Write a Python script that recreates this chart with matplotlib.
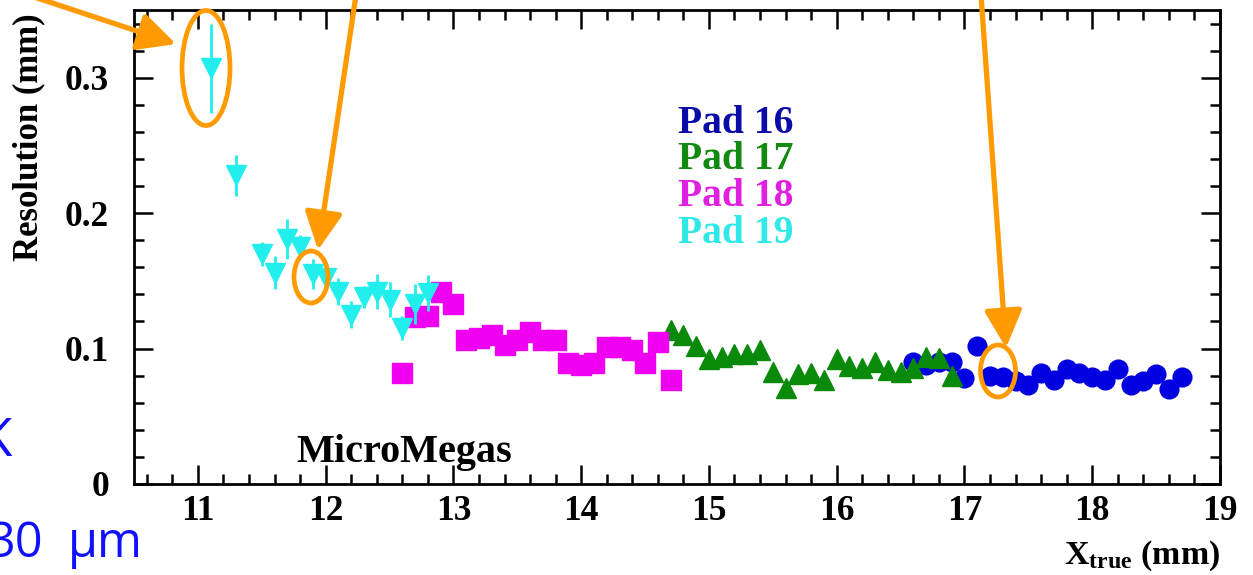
import matplotlib
matplotlib.use("Agg")
import matplotlib.pyplot as plt
from matplotlib.patches import Ellipse, FancyArrowPatch, ArrowStyle
from matplotlib.ticker import MultipleLocator, FixedLocator

# ---------------- data ----------------
p19_x = [11.1, 11.3, 11.5, 11.6, 11.7, 11.8, 11.9, 12.0, 12.1, 12.2, 12.3, 12.4, 12.5, 12.6, 12.7, 12.8]
p19_y = [0.307, 0.228, 0.170, 0.156, 0.181, 0.175, 0.155, 0.152, 0.142, 0.125, 0.138, 0.142, 0.136, 0.115, 0.133, 0.141]
p19_e = [0.033, 0.015, 0.009, 0.012, 0.015, 0.009, 0.011, 0.008, 0.010, 0.010, 0.008, 0.013, 0.013, 0.009, 0.015, 0.013]

p18_x = [12.6, 12.7, 12.8, 12.9, 13.0, 13.1, 13.2, 13.3, 13.4, 13.5, 13.6, 13.7, 13.8, 13.9, 14.0,
         14.1, 14.2, 14.3, 14.4, 14.5, 14.6, 14.7]
p18_y = [0.082, 0.123, 0.124, 0.142, 0.133, 0.106, 0.108, 0.110, 0.103, 0.106, 0.112, 0.106, 0.106,
         0.089, 0.088, 0.089, 0.101, 0.101, 0.099, 0.089, 0.105, 0.077]
p18_e = [0.006, 0.006, 0.006, 0.005, 0.005, 0.005, 0.005, 0.005, 0.005, 0.005, 0.005, 0.005, 0.005,
         0.005, 0.005, 0.005, 0.005, 0.005, 0.005, 0.005, 0.005, 0.007]

p17_x = [14.7, 14.8, 14.9, 15.0, 15.1, 15.2, 15.3, 15.4, 15.5, 15.6, 15.7, 15.8, 15.9, 16.0, 16.1,
         16.2, 16.3, 16.4, 16.5, 16.6, 16.7, 16.8, 16.9]
p17_y = [0.114, 0.110, 0.102, 0.092, 0.094, 0.096, 0.096, 0.099, 0.083, 0.071, 0.081, 0.082, 0.077,
         0.092, 0.087, 0.086, 0.090, 0.084, 0.083, 0.086, 0.094, 0.093, 0.080]

p16_x = [16.6, 16.7, 16.8, 16.9, 17.0, 17.1, 17.2, 17.3, 17.4, 17.5, 17.6, 17.7, 17.8, 17.9, 18.0,
         18.1, 18.2, 18.3, 18.4, 18.5, 18.6, 18.7]
p16_y = [0.090, 0.088, 0.090, 0.090, 0.078, 0.102, 0.080, 0.079, 0.076, 0.073, 0.082, 0.077, 0.085,
         0.082, 0.079, 0.077, 0.085, 0.073, 0.076, 0.081, 0.070, 0.079]

pad_labels = ["Pad 16", "Pad 17", "Pad 18", "Pad 19"]
pad_colors = ["#0000e0", "#0a8a0a", "#f000f0", "#22eeee"]
label_colors = ["#0a0aa8", "#128a12", "#e020e0", "#30e8e8"]

xticks = [11, 12, 13, 14, 15, 16, 17, 18, 19]
yticks = [0, 0.1, 0.2, 0.3]
ytick_labels = ["0", "0.1", "0.2", "0.3"]

W, H = 1253, 575
SERIF = "Liberation Serif"

plt.rcParams["mathtext.fontset"] = "custom"
plt.rcParams["mathtext.rm"] = SERIF + ":bold"
plt.rcParams["mathtext.bf"] = SERIF + ":bold"
plt.rcParams["mathtext.it"] = SERIF + ":bold"

fig = plt.figure(figsize=(W / 100, H / 100), dpi=100)
fig.patch.set_facecolor("white")

def px(x, y):
    return (x / W, 1 - y / H)

ax = fig.add_axes([134 / W, 1 - 484 / H, (1220 - 134) / W, (484 - 10) / H])

ax.errorbar(p16_x, p16_y, yerr=0.003, fmt="o", ms=13.5, color=pad_colors[0],
            ecolor=pad_colors[0], elinewidth=1.5, capsize=0, zorder=3)
ax.errorbar(p17_x, p17_y, yerr=0.003, fmt="^", ms=15, color=pad_colors[1],
            ecolor=pad_colors[1], elinewidth=1.5, capsize=0, zorder=4)
ax.errorbar(p18_x, p18_y, yerr=p18_e, fmt="s", ms=14.5, color=pad_colors[2],
            ecolor=pad_colors[2], elinewidth=1.8, capsize=0, zorder=5)
ax.errorbar(p19_x, p19_y, yerr=p19_e, fmt="v", ms=15, color=pad_colors[3],
            ecolor=pad_colors[3], elinewidth=2.0, capsize=0, zorder=6)

ax.set_xlim(10.5, 19)
ax.set_ylim(0, 0.35)
ax.xaxis.set_major_locator(FixedLocator(xticks))
ax.xaxis.set_minor_locator(MultipleLocator(0.2))
ax.yaxis.set_major_locator(FixedLocator(yticks))
ax.yaxis.set_minor_locator(MultipleLocator(0.02))
ax.set_yticklabels(ytick_labels)

for s in ax.spines.values():
    s.set_linewidth(2.0)
ax.tick_params(which="both", direction="in", top=True, right=True, width=1.8)
ax.tick_params(which="major", length=14)
ax.tick_params(which="minor", length=7.5)
ax.tick_params(axis="x", which="major", pad=8)
ax.tick_params(axis="y", which="major", pad=18)
for lab in ax.get_xticklabels() + ax.get_yticklabels():
    lab.set_fontfamily(SERIF)
    lab.set_fontweight("bold")
    lab.set_fontsize(25.5)

ax.set_ylabel("Resolution (mm)", fontfamily=SERIF, fontweight="bold", fontsize=25)
ax.yaxis.set_label_coords(-0.082, 0.731)
ax.set_xlabel(r"$\mathbf{X_{true}}$ (mm)", fontfamily=SERIF, fontweight="bold", fontsize=24.5,
              ha="right")
ax.xaxis.set_label_coords(1.0, -0.115)

ax.text(11.77, 0.016, "MicroMegas", fontfamily=SERIF, fontweight="bold", fontsize=29,
        ha="left", va="baseline")

baselines = [133, 169, 206, 243]
for lab, col, yb in zip(pad_labels, label_colors, baselines):
    fig.text(678 / W, 1 - yb / H, lab, fontfamily=SERIF, fontweight="bold", fontsize=28.5,
             color=col, ha="left", va="baseline")

# ---------------- annotations (slide overlay) ----------------
ORANGE = "#ff9a00"
style = ArrowStyle("-|>", head_length=23, head_width=11.5)
for (x0, y0), (x1, y1) in [((-5, -16), (176, 44)), ((356, -5), (318, 250)), ((981, -5), (1006, 348))]:
    arr = FancyArrowPatch(px(x0, y0), px(x1, y1), transform=fig.transFigure, arrowstyle=style,
                          mutation_scale=1, color=ORANGE, lw=3.8, shrinkA=0, shrinkB=0,
                          zorder=10)
    fig.add_artist(arr)

for (cx, cy, w, h) in [(206, 68, 48, 115), (311, 277, 34, 52), (998, 371, 35, 52)]:
    e = Ellipse(px(cx, cy), w / W, h / H, transform=fig.transFigure, fill=False,
                edgecolor=ORANGE, lw=3.4, zorder=10)
    fig.add_artist(e)

BLUE = "#1010ff"
fig.text(12 / W, 1 - 456 / H, "K", fontfamily="Open Sans", fontsize=38, color=BLUE,
         ha="right", va="baseline")
fig.text(44 / W, 1 - 557 / H, "30", fontfamily="Open Sans", fontsize=35, color=BLUE,
         ha="right", va="baseline")
fig.text(68 / W, 1 - 557 / H, "μm", fontfamily="Open Sans", fontsize=35, color=BLUE,
         ha="left", va="baseline")

fig.savefig("out.png", dpi=100)
